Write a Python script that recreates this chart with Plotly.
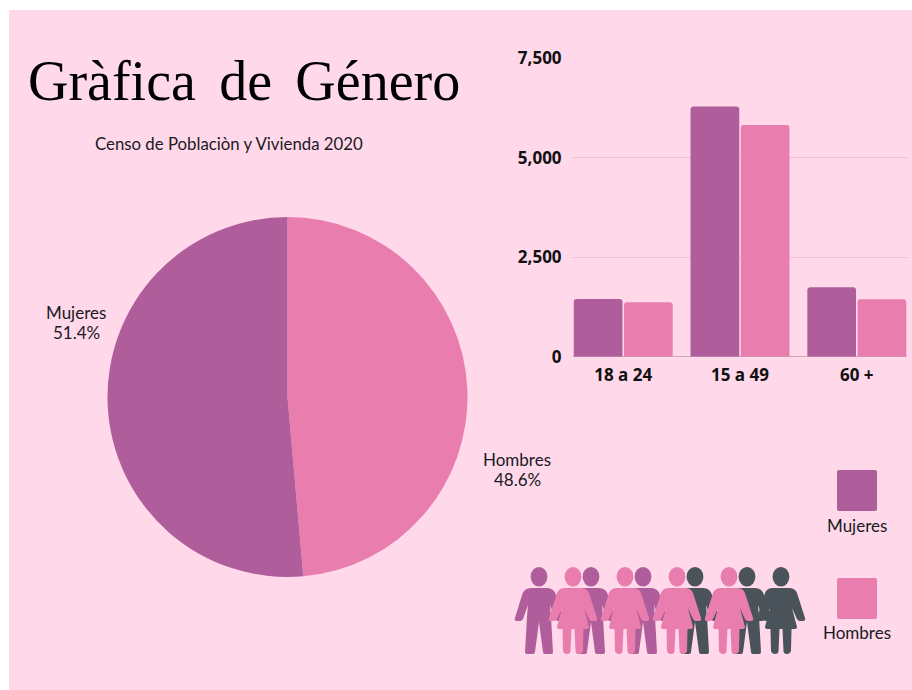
import plotly.graph_objects as go

BG = "#FFD8EA"
PURPLE = "#B05E9B"
PINK = "#E97DAE"
DARK = "#4A525A"
TEXT = "#1A1A1F"
W, H = 912, 690

pie_labels = ["Hombres", "Mujeres"]
pie_values = [48.6, 51.4]
age_groups = ["18 a 24", "15 a 49", "60 +"]
mujeres = [1450, 6290, 1743]
hombres = [1367, 5823, 1442]
y_ticks = [0, 2500, 5000, 7500]


def px(x):
    return x / W


def py(y):
    return 1 - y / H


fig = go.Figure()
fig.add_trace(go.Pie(
    labels=pie_labels, values=pie_values, sort=False, direction="clockwise", rotation=0,
    marker=dict(colors=[PINK, PURPLE], line=dict(width=0)),
    textinfo="none", hoverinfo="label+percent", showlegend=False,
    domain=dict(x=[px(107.5), px(467.5)], y=[py(577), py(217)]),
))
fig.add_trace(go.Bar(x=age_groups, y=mujeres, name="Mujeres", marker=dict(color=PURPLE, line=dict(width=0), cornerradius=3), showlegend=False))
fig.add_trace(go.Bar(x=age_groups, y=hombres, name="Hombres", marker=dict(color=PINK, line=dict(width=0), cornerradius=3), showlegend=False))

shapes = [dict(type="rect", xref="paper", yref="paper", x0=px(9), x1=px(912), y0=py(690), y1=py(10),
               fillcolor=BG, line=dict(width=0), layer="below")]

MAN = ("M-8,21 L8,21 Q15,21 17,28 L24,51 Q25,54 22,54 L19,54 Q17,54 16,52 L11,38 L12,50 L14,85 Q14,87 12,87 "
       "L6,87 Q4,87 4,85 L0,55 L-4,85 Q-4,87 -6,87 L-12,87 Q-14,87 -14,85 L-12,50 L-11,38 L-16,52 Q-17,54 -19,54 "
       "L-22,54 Q-25,54 -24,51 L-17,28 Q-15,21 -8,21 Z")
WOMAN = ("M-8,21 L8,21 Q14,21 16,26 L24,51 Q25,54 22,54 L19,54 Q17,54 16,52 L11,41 L16,60 Q16,62 14,62 L10.5,62 L10,84 "
         "Q9,87 6,87 Q2.5,87 2.5,84 L1.5,62 L-1.5,62 L-2.5,84 Q-2.5,87 -6,87 Q-9,87 -10,84 L-10.5,62 L-14,62 Q-16,62 -16,60 L-11,41 "
         "L-16,52 Q-17,54 -19,54 L-22,54 Q-25,54 -24,51 L-16,26 Q-14,21 -8,21 Z")


def person_path(cx, top, template):
    out = []
    for tok in template.split():
        cmd = ""
        if tok[0].isalpha():
            cmd, tok = tok[0], tok[1:]
        if not tok:
            out.append(cmd)
            continue
        dx, dy = map(float, tok.split(","))
        out.append(f"{cmd}{px(cx + dx):.5f},{py(top + dy):.5f}")
    return " ".join(out)


def person_shapes(cx, top, color, woman):
    return [
        dict(type="circle", xref="paper", yref="paper", x0=px(cx - 8.4), x1=px(cx + 8.4),
             y0=py(top + 19.5), y1=py(top), fillcolor=color, line=dict(width=0)),
        dict(type="path", xref="paper", yref="paper", path=person_path(cx, top, WOMAN if woman else MAN),
             fillcolor=color, line=dict(width=0)),
    ]


people = [
    (591, PURPLE, False), (643, PURPLE, False), (539, PURPLE, False),
    (695, DARK, False), (747, DARK, False), (781, DARK, True),
    (573, PINK, True), (625, PINK, True), (677, PINK, True), (729, PINK, True),
]
for cx, color, woman in people:
    shapes += person_shapes(cx, 567, color, woman)


def swatch(x0, y0, x1, y1, color, r=2):
    path = (f"M{px(x0 + r):.5f},{py(y0):.5f} L{px(x1 - r):.5f},{py(y0):.5f} Q{px(x1):.5f},{py(y0):.5f} {px(x1):.5f},{py(y0 + r):.5f} "
            f"L{px(x1):.5f},{py(y1 - r):.5f} Q{px(x1):.5f},{py(y1):.5f} {px(x1 - r):.5f},{py(y1):.5f} "
            f"L{px(x0 + r):.5f},{py(y1):.5f} Q{px(x0):.5f},{py(y1):.5f} {px(x0):.5f},{py(y1 - r):.5f} "
            f"L{px(x0):.5f},{py(y0 + r):.5f} Q{px(x0):.5f},{py(y0):.5f} {px(x0 + r):.5f},{py(y0):.5f} Z")
    return dict(type="path", xref="paper", yref="paper", path=path, fillcolor=color, line=dict(width=0))


shapes.append(swatch(837, 470, 877, 511, PURPLE))
shapes.append(swatch(837, 578, 877, 619, PINK))


def note(text, x, y, size, family="Lato", color=TEXT):
    return dict(text=text, xref="paper", yref="paper", x=px(x), y=py(y), showarrow=False,
                xanchor="center", yanchor="middle", align="center",
                font=dict(family=family, size=size, color=color))


annotations = [
    note("Gràfica\u00a0\u2006de\u00a0\u2006Género", 244, 81, 56, "Liberation Serif", "#000000"),
    note("Censo de Poblaciòn y Vivienda 2020", 229, 143.5, 16.8),
    note(pie_labels[1], 76, 312, 17),
    note(f"{pie_values[1]}%", 76, 332, 17),
    note(pie_labels[0], 517, 459.5, 17),
    note(f"{pie_values[0]}%", 517, 479.5, 17),
    note("Mujeres", 857, 525.5, 17),
    note("Hombres", 857, 632.5, 17),
]

fig.update_layout(
    template="none",
    width=W, height=H, autosize=False,
    margin=dict(l=0, r=0, t=0, b=0, pad=0),
    paper_bgcolor="white", plot_bgcolor="rgba(0,0,0,0)",
    barmode="group", bargap=0.14, bargroupgap=0.03,
    shapes=shapes, annotations=annotations,
    xaxis=dict(domain=[px(573), px(907)], range=[-0.43, 2.43], type="category", anchor="y", automargin=False,
               showgrid=False, ticks="outside", ticklen=3, tickcolor="rgba(0,0,0,0)", zeroline=False, showline=False,
               tickfont=dict(family="Open Sans", size=17, color="#111111", weight=700)),
    yaxis=dict(domain=[py(356.7), py(58.3)], range=[0, 7500], tickvals=y_ticks, tickformat=",", automargin=False,
               gridcolor="#EDBFD6", gridwidth=1, zeroline=True, zerolinecolor="#C9A9BC", zerolinewidth=1,
               showline=False, ticks="outside", ticklen=7, tickcolor="rgba(0,0,0,0)", anchor="x",
               tickfont=dict(family="Open Sans", size=17, color="#111111", weight=700)),
)

fig.write_html("out.html", config={"displayModeBar": False}, post_script="document.body.style.margin='0';")
